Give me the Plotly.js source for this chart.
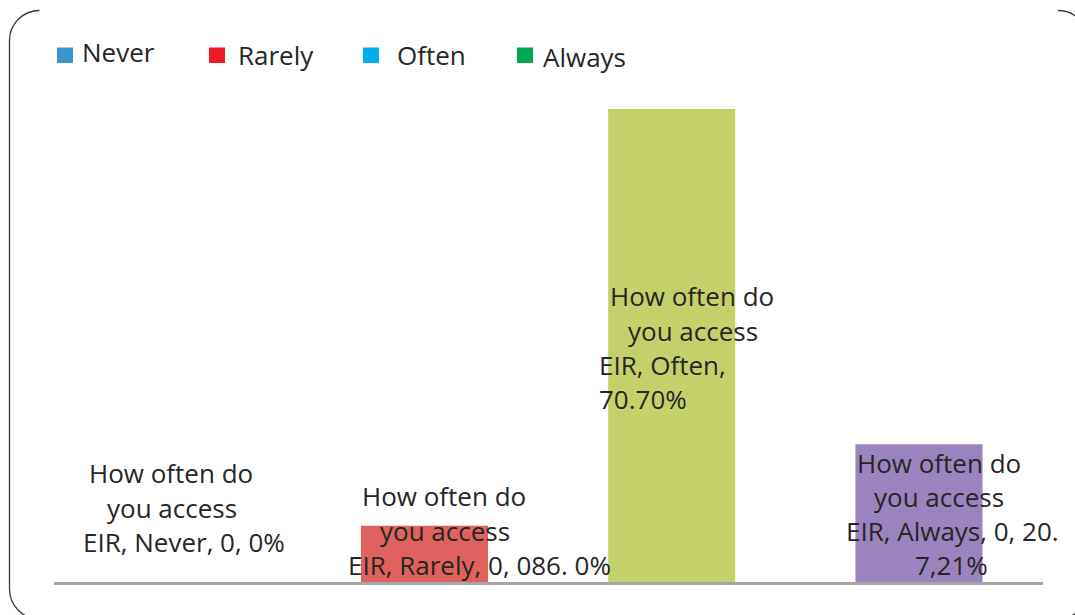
<!DOCTYPE html>
<html>
<head>
<meta charset="utf-8">
<script src="https://cdn.plot.ly/plotly-3.0.1.min.js"></script>
<style>html,body{margin:0;padding:0;background:#fff;}#chart{width:1075px;height:615px;}</style>
</head>
<body>
<div id="chart"></div>
<script>
// ---- data ----
const categories = ['Never', 'Rarely', 'Often', 'Always'];
const values = [0, 8.4, 70.7, 20.6];
const barColors = ['#4f81bd', '#e0625e', '#c4d16a', '#9b84bd'];
const labelLines = [
  ['How often do', 'you access', 'EIR, Never, 0, 0%'],
  ['How often do', 'you access', 'EIR, Rarely, 0, 086. 0%'],
  ['How often do', 'you access', 'EIR, Often,', '70.70%'],
  ['How often do', 'you access', 'EIR, Always, 0, 20.', '7,21%']
];
const legendNames = ['Never', 'Rarely', 'Often', 'Always'];
const legendColors = ['#3b95cf', '#ed1c24', '#00aeef', '#00a651'];

// ---- layout helpers (pixel -> paper) ----
const W = 1075, H = 615;
const X = px => px / W;
const Y = py => 1 - py / H;

// per-line label placement (style): [xshift from bar centre, baseline px]
const lineShift = [
  [-6.7, -5.7, 7.2],
  [19.8, 20.4, 54.8],
  [20.2, 21, -9.5, -28.5],
  [20, 20, 34, 32.7]
];
const lineBase = [
  [481.7, 516.5, 551],
  [505, 539.5, 574],
  [305, 339.5, 374, 408],
  [471.7, 505.7, 539.7, 573.7]
];
const FONT = '"Open Sans", "Noto Sans", sans-serif';
const TXT = '#262626';
const FS = 26;

const annotations = [];
labelLines.forEach((lines, i) => {
  lines.forEach((t, j) => {
    annotations.push({
      x: categories[i], xref: 'x',
      y: Y(lineBase[i][j] - 9), yref: 'paper',
      xanchor: 'center', yanchor: 'middle',
      xshift: lineShift[i][j],
      text: t, showarrow: false,
      font: {family: FONT, size: FS, color: TXT}
    });
  });
});

// legend (drawn manually)
const legSq = [57, 209, 363, 517];
const legTx = [80, 236, 395, 541];
const legBase = [61, 64, 64, 65.7];
const shapes = [];
legendNames.forEach((n, i) => {
  shapes.push({type: 'rect', xref: 'paper', yref: 'paper',
    x0: X(legSq[i]), x1: X(legSq[i] + 16), y0: Y(47.5), y1: Y(63),
    fillcolor: legendColors[i], line: {width: 0}});
  annotations.push({x: X(legTx[i]), y: Y(legBase[i] - 9), xref: 'paper', yref: 'paper',
    xanchor: 'left', yanchor: 'middle', text: n, showarrow: false,
    font: {family: FONT, size: FS, color: TXT}});
});

// rounded frame corners
const frameLine = {color: '#3a3a3a', width: 1.3};
const k = 16.6;
shapes.push({type: 'path', xref: 'paper', yref: 'paper', line: frameLine,
  path: `M ${X(39.5)},${Y(10.5)} C ${X(39.5 - k)},${Y(10.5)} ${X(9.5)},${Y(40.5 - k)} ${X(9.5)},${Y(40.5)} L ${X(9.5)},${Y(589)} C ${X(9.5)},${Y(589 + k)} ${X(39.5 - k)},${Y(619)} ${X(39.5)},${Y(619)}`});
shapes.push({type: 'path', xref: 'paper', yref: 'paper', line: frameLine,
  path: `M ${X(1058)},${Y(10.5)} C ${X(1058 + k)},${Y(10.5)} ${X(1088)},${Y(40.5 - k)} ${X(1088)},${Y(40.5)}`});
shapes.push({type: 'path', xref: 'paper', yref: 'paper', line: frameLine,
  path: `M ${X(1088)},${Y(589)} C ${X(1088)},${Y(589 + k)} ${X(1058 + k)},${Y(619)} ${X(1058)},${Y(619)}`});

const trace = {
  type: 'bar',
  x: categories,
  y: values,
  marker: {color: barColors, line: {width: 0}},
  width: 0.514,
  hoverinfo: 'x+y',
  showlegend: false
};

const layout = {
  width: W, height: H,
  margin: {l: 0, r: 0, t: 0, b: 0, pad: 0},
  paper_bgcolor: '#ffffff', plot_bgcolor: '#ffffff',
  showlegend: false,
  xaxis: {
    domain: [X(53.6), X(1042.6)],
    range: [-0.5, 3.5], type: 'category',
    showticklabels: false, ticks: '', showgrid: false, zeroline: false,
    showline: true, linecolor: '#a6a6a6', linewidth: 3, fixedrange: true
  },
  yaxis: {
    domain: [Y(582), Y(60)],
    range: [0, 522 / (473 / 70.7)],
    visible: false, showgrid: false, zeroline: false, fixedrange: true
  },
  annotations: annotations,
  shapes: shapes
};

Plotly.newPlot('chart', [trace], layout, {displayModeBar: false, staticPlot: true});
</script>
</body>
</html>
